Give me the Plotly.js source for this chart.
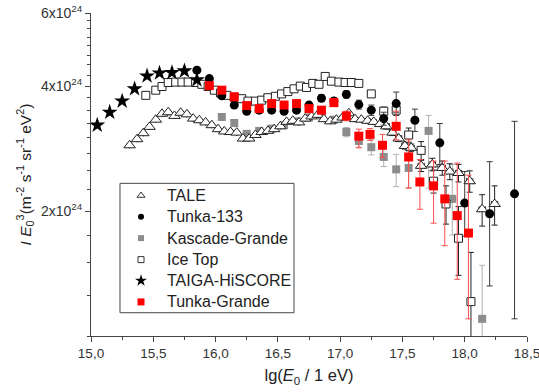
<!DOCTYPE html>
<html><head><meta charset="utf-8">
<script src="https://cdn.plot.ly/plotly-3.0.1.min.js"></script>
<style>html,body{margin:0;padding:0;background:#fff}#chart{width:539px;height:392px}</style>
</head><body><div id="chart"></div>
<script>
// Values in units of 1e24 m^-2 s^-1 sr^-1 eV^2
const UNIT = 1e24;

// TALE
const taleX = [15.31,15.37,15.42,15.47,15.52,15.57,15.62,15.67,15.72,15.77,15.82,15.87,15.92,15.97,16.02,16.07,16.12,16.17,16.22,16.27,16.32,16.37,16.42,16.47,16.52,16.57,16.62,16.67,16.72,16.77,16.82,16.87,16.92,16.97,17.02,17.07,17.12,17.17,17.22,17.27,17.32,17.37,17.42,17.47,17.52,17.57,17.65,17.74,17.82,17.88,17.95,18.04,18.14,18.24];
const taleY = [2.88,2.98,3.08,3.19,3.32,3.43,3.46,3.39,3.45,3.42,3.34,3.31,3.27,3.22,3.15,3.11,3.10,3.09,2.99,2.99,3.05,3.10,3.12,3.15,3.20,3.28,3.30,3.27,3.34,3.38,3.41,3.33,3.29,3.32,3.36,3.44,3.33,3.32,3.30,3.28,3.24,3.20,3.09,2.99,2.87,2.84,2.57,2.59,2.54,2.49,2.47,2.36,2.02,2.08];
const taleErrUp = [0.02,0.02,0.02,0.02,0.02,0.02,0.02,0.02,0.02,0.02,0.02,0.02,0.02,0.02,0.02,0.02,0.02,0.02,0.02,0.02,0.02,0.02,0.02,0.02,0.02,0.02,0.02,0.02,0.02,0.02,0.02,0.02,0.02,0.03,0.03,0.03,0.03,0.03,0.04,0.04,0.04,0.05,0.05,0.05,0.05,0.06,0.08,0.09,0.10,0.11,0.12,0.14,0.17,0.22];
const taleErrDn = [0.02,0.02,0.02,0.02,0.02,0.02,0.02,0.02,0.02,0.02,0.02,0.02,0.02,0.02,0.02,0.02,0.02,0.02,0.02,0.02,0.02,0.02,0.02,0.02,0.02,0.02,0.02,0.02,0.02,0.02,0.02,0.02,0.02,0.03,0.03,0.03,0.03,0.03,0.04,0.04,0.04,0.05,0.05,0.05,0.05,0.06,0.08,0.09,0.10,0.11,0.12,0.14,0.18,0.23];
const taleErrX = [0,0,0,0,0,0,0,0,0,0,0,0,0,0,0,0,0,0,0,0,0,0,0,0,0,0,0,0,0,0,0,0,0,0,0,0,0,0,0,0,0,0.025,0.025,0.025,0.025,0.025,0.025,0.025,0.025,0.025,0.025,0.025,0.025,0.025];

// Tunka-133
const t133X = [15.85,15.95,16.05,16.15,16.25,16.35,16.45,16.55,16.65,16.75,16.85,16.95,17.05,17.15,17.25,17.35,17.45,17.6,17.8,18.0,18.2,18.4];
const t133Y = [4.37,4.17,3.79,3.60,3.48,3.50,3.50,3.48,3.50,3.60,3.74,3.68,3.82,3.61,3.50,3.34,3.63,3.31,2.92,2.09,1.97,2.20];
const t133ErrUp = [0.04,0.04,0.04,0.04,0.04,0.04,0.05,0.05,0.05,0.06,0.07,0.07,0.08,0.09,0.10,0.12,0.24,0.21,0.33,0.40,0.66,1.09];
const t133ErrDn = [0.04,0.04,0.04,0.04,0.04,0.04,0.05,0.05,0.05,0.06,0.07,0.07,0.08,0.09,0.10,0.12,0.17,0.20,0.33,0.35,0.65,1.10];

// Kascade-Grande
const kgX = [16.05,16.15,16.25,16.35,16.45,16.55,16.65,16.75,16.85,16.95,17.05,17.15,17.25,17.35,17.45,17.55,17.71,17.90,18.14];
const kgY = [3.37,3.26,3.07,3.12,3.16,3.22,3.29,3.36,3.40,3.32,3.10,2.95,2.85,2.70,2.52,2.54,3.12,2.14,1.10];
const kgErrUp = [0.04,0.04,0.04,0.04,0.04,0.04,0.05,0.05,0.05,0.06,0.08,0.10,0.12,0.14,0.22,0.24,0.28,0.45,0.38];
const kgErrDn = [0.04,0.04,0.04,0.04,0.04,0.04,0.05,0.05,0.05,0.06,0.08,0.10,0.12,0.14,0.23,0.26,0.85,0.39,0.50];

// Ice Top
const itX = [15.44,15.52,15.57,15.62,15.68,15.73,15.78,15.84,15.89,15.94,15.99,16.04,16.09,16.15,16.21,16.26,16.32,16.37,16.42,16.48,16.53,16.58,16.63,16.68,16.73,16.78,16.83,16.88,16.93,16.99,17.04,17.09,17.15,17.25,17.35,17.45,17.55,17.65,17.75,17.85,17.95,18.05];
const itY = [3.80,3.91,3.99,4.08,4.09,4.09,4.09,4.08,4.04,3.99,3.91,3.85,3.80,3.76,3.73,3.68,3.68,3.70,3.75,3.78,3.83,3.88,3.94,4.00,3.97,4.06,4.04,4.22,4.11,4.09,4.08,4.08,4.06,3.83,3.48,3.50,3.05,2.80,2.36,2.08,1.72,1.21];
const itErrUp = [0.03,0.03,0.03,0.03,0.03,0.03,0.03,0.03,0.03,0.03,0.03,0.03,0.03,0.03,0.03,0.03,0.03,0.03,0.03,0.03,0.03,0.03,0.03,0.03,0.03,0.03,0.03,0.03,0.03,0.03,0.03,0.03,0.04,0.07,0.08,0.10,0.12,0.14,0.15,0.22,0.33,0.38];
const itErrDn = [0.03,0.03,0.03,0.03,0.03,0.03,0.03,0.03,0.03,0.03,0.03,0.03,0.03,0.03,0.03,0.03,0.03,0.03,0.03,0.03,0.03,0.03,0.03,0.03,0.03,0.03,0.03,0.03,0.03,0.03,0.03,0.03,0.04,0.07,0.08,0.10,0.12,0.14,0.15,0.22,0.32,0.50];
const itErrX = 0.025;

// TAIGA-HiSCORE
const thsX = [15.05,15.15,15.25,15.35,15.45,15.55,15.65,15.75,15.85];
const thsY = [3.22,3.46,3.68,3.94,4.23,4.30,4.31,4.35,4.14];

// Tunka-Grande
const tgX = [15.95,16.05,16.15,16.25,16.35,16.45,16.55,16.65,16.75,16.85,16.95,17.05,17.15,17.24,17.34,17.45,17.55,17.64,17.75,17.84,17.94,18.03];
const tgY = [4.01,3.91,3.77,3.59,3.53,3.63,3.60,3.63,3.53,3.50,3.65,3.39,3.03,3.06,2.88,3.20,2.70,2.35,2.30,2.14,1.95,1.77];
const tgErrUp = [0.05,0.05,0.05,0.05,0.05,0.05,0.05,0.06,0.06,0.07,0.08,0.09,0.12,0.10,0.18,0.28,0.27,0.31,0.34,0.50,0.66,0.67];
const tgErrDn = [0.05,0.05,0.05,0.05,0.05,0.05,0.05,0.06,0.06,0.07,0.08,0.09,0.19,0.10,0.19,0.23,0.43,0.33,0.43,0.49,0.58,0.67];

const legendNames = ['TALE','Tunka-133','Kascade-Grande','Ice Top','TAIGA-HiSCORE','Tunka-Grande'];
const xTicks = [15.0,15.5,16.0,16.5,17.0,17.5,18.0,18.5];
const xTickText = ['15,0','15,5','16,0','16,5','17,0','17,5','18,0','18,5'];
const yTicks = [2,4,6];
const yTickText = ['2x10<sup>24</sup>','4x10<sup>24</sup>','6x10<sup>24</sup>'];
const yMinor = [1,1.25,1.5,1.75,2.25,2.5,2.75,3,3.25,3.5,3.75,4.25,4.5,4.75,5,5.25,5.5,5.75];

const sc = a => a.map(v => v * UNIT);
const eb = (up, dn, color) => ({type:'data', symmetric:false, array:sc(up), arrayminus:sc(dn), color:color, thickness:1, width:3});

const traces = [
  {x:kgX, y:sc(kgY), mode:'markers', type:'scatter', showlegend:false,
   marker:{symbol:'square', size:8, color:'#8c8c8c'}, error_y:eb(kgErrUp,kgErrDn,'#b0b0b0')},
  {x:taleX, y:sc(taleY), mode:'markers', type:'scatter', showlegend:false,
   marker:{symbol:'triangle-up', size:10, color:'#ffffff', line:{color:'#222', width:1}},
   error_y:eb(taleErrUp,taleErrDn,'#222'), error_x:{type:'data', array:taleErrX, color:'#222', thickness:1, width:3}},
  {x:itX, y:sc(itY), mode:'markers', type:'scatter', showlegend:false,
   marker:{symbol:'square', size:8, color:'#ffffff', line:{color:'#222', width:1}},
   error_y:eb(itErrUp,itErrDn,'#222'), error_x:{type:'constant', value:itErrX, color:'#222', thickness:1, width:3}},
  {x:t133X, y:sc(t133Y), mode:'markers', type:'scatter', showlegend:false,
   marker:{symbol:'circle', size:9, color:'#000'}, error_y:eb(t133ErrUp,t133ErrDn,'#3a3a3a')},
  {x:thsX, y:sc(thsY), mode:'markers', type:'scatter', showlegend:false,
   marker:{symbol:'star', size:12, color:'#000'}},
  {x:tgX, y:sc(tgY), mode:'markers', type:'scatter', showlegend:false,
   marker:{symbol:'square', size:9, color:'#ff0000'}, error_y:eb(tgErrUp,tgErrDn,'#ff4d4d')}
];

// Hand-built legend (box, symbols on an overlay axis, labels as annotations)
const legBox = {x0:0.0665, x1:0.4656, y0:0.072, y1:0.4727};
const legSymX = 0.1147, legTextX = 0.170;
const legRowY = [0.4350,0.3690,0.3030,0.2365,0.1715,0.1055];
const legendStyles = [
  {symbol:'triangle-up-open', size:7, color:'#333', line:{width:1}},
  {symbol:'circle', size:6, color:'#000'},
  {symbol:'square', size:6, color:'#8c8c8c'},
  {symbol:'square-open', size:6, color:'#333', line:{width:1}},
  {symbol:'star', size:9, color:'#000'},
  {symbol:'square', size:7, color:'#ff0000'}
];
legendNames.forEach((n,i) => {
  traces.push({x:[legSymX], y:[legRowY[i]], xaxis:'x2', yaxis:'y2', mode:'markers', type:'scatter',
               name:n, marker:legendStyles[i], showlegend:false, hoverinfo:'skip'});
});

const fam = 'Liberation Sans, Arial, sans-serif';
const annotations = legendNames.map((n,i) => ({
  xref:'paper', yref:'paper', x:legTextX, y:legRowY[i], xanchor:'left', yanchor:'middle',
  text:n, showarrow:false, font:{size:16, family:fam, color:'#222'}
}));

const layout = {
  width:539, height:392,
  margin:{l:91, r:12, t:13, b:56},
  paper_bgcolor:'#fff', plot_bgcolor:'#fff',
  font:{family:fam, color:'#222'},
  showlegend:false,
  annotations:annotations,
  shapes:[{type:'rect', xref:'paper', yref:'paper', x0:legBox.x0, x1:legBox.x1, y0:legBox.y0, y1:legBox.y1,
           line:{color:'#444', width:1}, fillcolor:'#fff', layer:'below'}],
  xaxis:{range:[15,18.5], tickmode:'array', tickvals:xTicks, ticktext:xTickText, ticklabeloverflow:'allow',
         ticks:'outside', ticklen:5, tickcolor:'#444', showline:true, linecolor:'#444', linewidth:1,
         showgrid:false, zeroline:false, tickfont:{size:13.5, color:'#333'},
         minor:{tickmode:'array', tickvals:[15.25,15.75,16.25,16.75,17.25,17.75,18.25], ticks:'outside', ticklen:3, tickcolor:'#444'},
         title:{text:'lg(<i>E</i><sub>0</sub> / 1 eV)', font:{size:16.5, color:'#222'}, standoff:9}},
  yaxis:{type:'log', range:[Math.log10(1*UNIT), Math.log10(6*UNIT)], tickmode:'array',
         tickvals:sc(yTicks), ticktext:yTickText, ticklabeloverflow:'allow',
         ticks:'outside', ticklen:5, tickcolor:'#444', showline:true, linecolor:'#444', linewidth:1,
         showgrid:false, zeroline:false, tickfont:{size:14, color:'#333'},
         minor:{tickmode:'array', tickvals:sc(yMinor), ticks:'outside', ticklen:3, tickcolor:'#444'},
         title:{text:'<i>I</i> <i>E</i><sub>0</sub><sup>3</sup>(m<sup>-2</sup> s<sup>-1</sup> sr<sup>-1</sup> eV<sup>2</sup>)', font:{size:15.5, color:'#222'}, standoff:5}},
  xaxis2:{overlaying:'x', range:[0,1], visible:false, fixedrange:true},
  yaxis2:{overlaying:'y', range:[0,1], visible:false, fixedrange:true}
};
Plotly.newPlot('chart', traces, layout, {displayModeBar:false, staticPlot:true});
</script></body></html>
